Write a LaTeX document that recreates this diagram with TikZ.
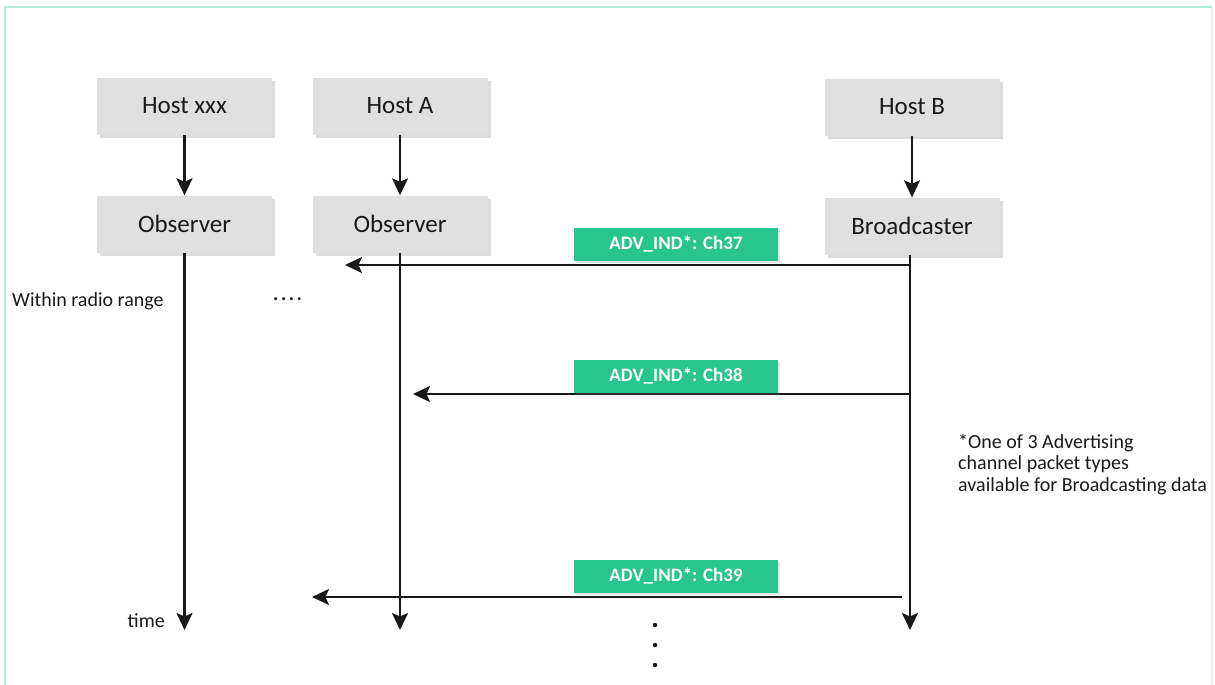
\documentclass[tikz,border=0pt]{standalone}
\usepackage{fontspec}
\setmainfont{Carlito}
\usetikzlibrary{arrows.meta,shadows}
\definecolor{boxgrey}{RGB}{224,224,224}
\definecolor{advgreen}{RGB}{40,198,142}
\definecolor{ink}{RGB}{25,25,25}
\definecolor{frameteal}{RGB}{188,234,218}
\definecolor{framegrey}{RGB}{236,240,240}
\begin{document}
\begin{tikzpicture}[x=1pt,y=-1pt,
  entity/.style={fill=boxgrey, minimum width=175pt, minimum height=57pt,
    inner sep=0pt, text=ink, font=\fontsize{25}{30}\selectfont,
    drop shadow={shadow xshift=3pt, shadow yshift=-3pt, opacity=0.28}},
  advlabel/.style={fill=advgreen, minimum width=204pt, minimum height=33pt,
    inner sep=0pt, text=white, font=\fontsize{19}{22}\selectfont\bfseries,
    drop shadow={shadow xshift=2pt, shadow yshift=-2pt, opacity=0.2}},
  plain/.style={text=ink, inner sep=0pt, font=\fontsize{20}{21.5}\selectfont},
  tip/.style={-{Stealth[length=17pt,width=16pt,inset=3.5pt]}},
  flow/.style={draw=ink, line width=2.1pt, tip},
  dotmark/.style={circle, fill=ink, inner sep=0pt, minimum size=4.5pt}
]
\useasboundingbox (0,0) rectangle (1215,685);

% outer frame
\draw[framegrey, line width=1.2pt] (1212,7) -- (1212,685);
\draw[frameteal, line width=2pt] (5,685) -- (5,7) -- (1212,7);

% hosts and their link-layer roles
\node[entity] (hx) at (184.5,106) {Host xxx};
\node[entity] (ha) at (400,106) {Host A};
\node[entity] (hb) at (912,107) {Host B};
\node[entity] (ox) at (184.5,224) {Observer};
\node[entity] (oa) at (400,224) {Observer};
\node[entity] (bc) at (912,226) {Broadcaster};

\draw[flow] (hx.south) -- (ox.north);
\draw[flow] (ha.south) -- (oa.north);
\draw[flow] (hb.south) -- (bc.north);

% time lines
\coordinate (ex) at (184.5,630);
\coordinate (ea) at (400,630);
\coordinate (eb) at (910,630);
\draw[flow] (ox.south -| ex) -- (ex);
\draw[flow] (oa.south -| ea) -- (ea);
\draw[flow] (bc.south -| eb) -- (eb);

% advertising packets
\coordinate (s37) at (910,265);
\coordinate (t37) at (345,265);
\coordinate (s38) at (910,394);
\coordinate (t38) at (413,394);
\coordinate (s39) at (902,597);
\coordinate (t39) at (312,597);
\draw[flow] (s37) -- (t37);
\draw[flow] (s38) -- (t38);
\draw[flow] (s39) -- (t39);

\node[advlabel] (l37) at (676,244) {ADV\_IND*: Ch37};
\node[advlabel] (l38) at (676,376) {ADV\_IND*: Ch38};
\node[advlabel] (l39) at (676,576) {ADV\_IND*: Ch39};

% side texts
\node[plain, anchor=west] (range) at (12,301) {Within radio range};
\node[plain, anchor=west] (more) at (273,299)
  {\bfseries .\kern2.5pt.\kern2.5pt.\kern2.5pt.};
\node[plain, anchor=east] (time) at (165,621) {time};
\node[plain, anchor=north west, align=left] (note) at (958,434)
  {*One of 3 Advertising\\channel packet types\\available for Broadcasting data};

% continuation dots
\node[dotmark] (d1) at (655,625) {};
\node[dotmark] (d2) at (655,645) {};
\node[dotmark] (d3) at (655,665) {};
\end{tikzpicture}
\end{document}
